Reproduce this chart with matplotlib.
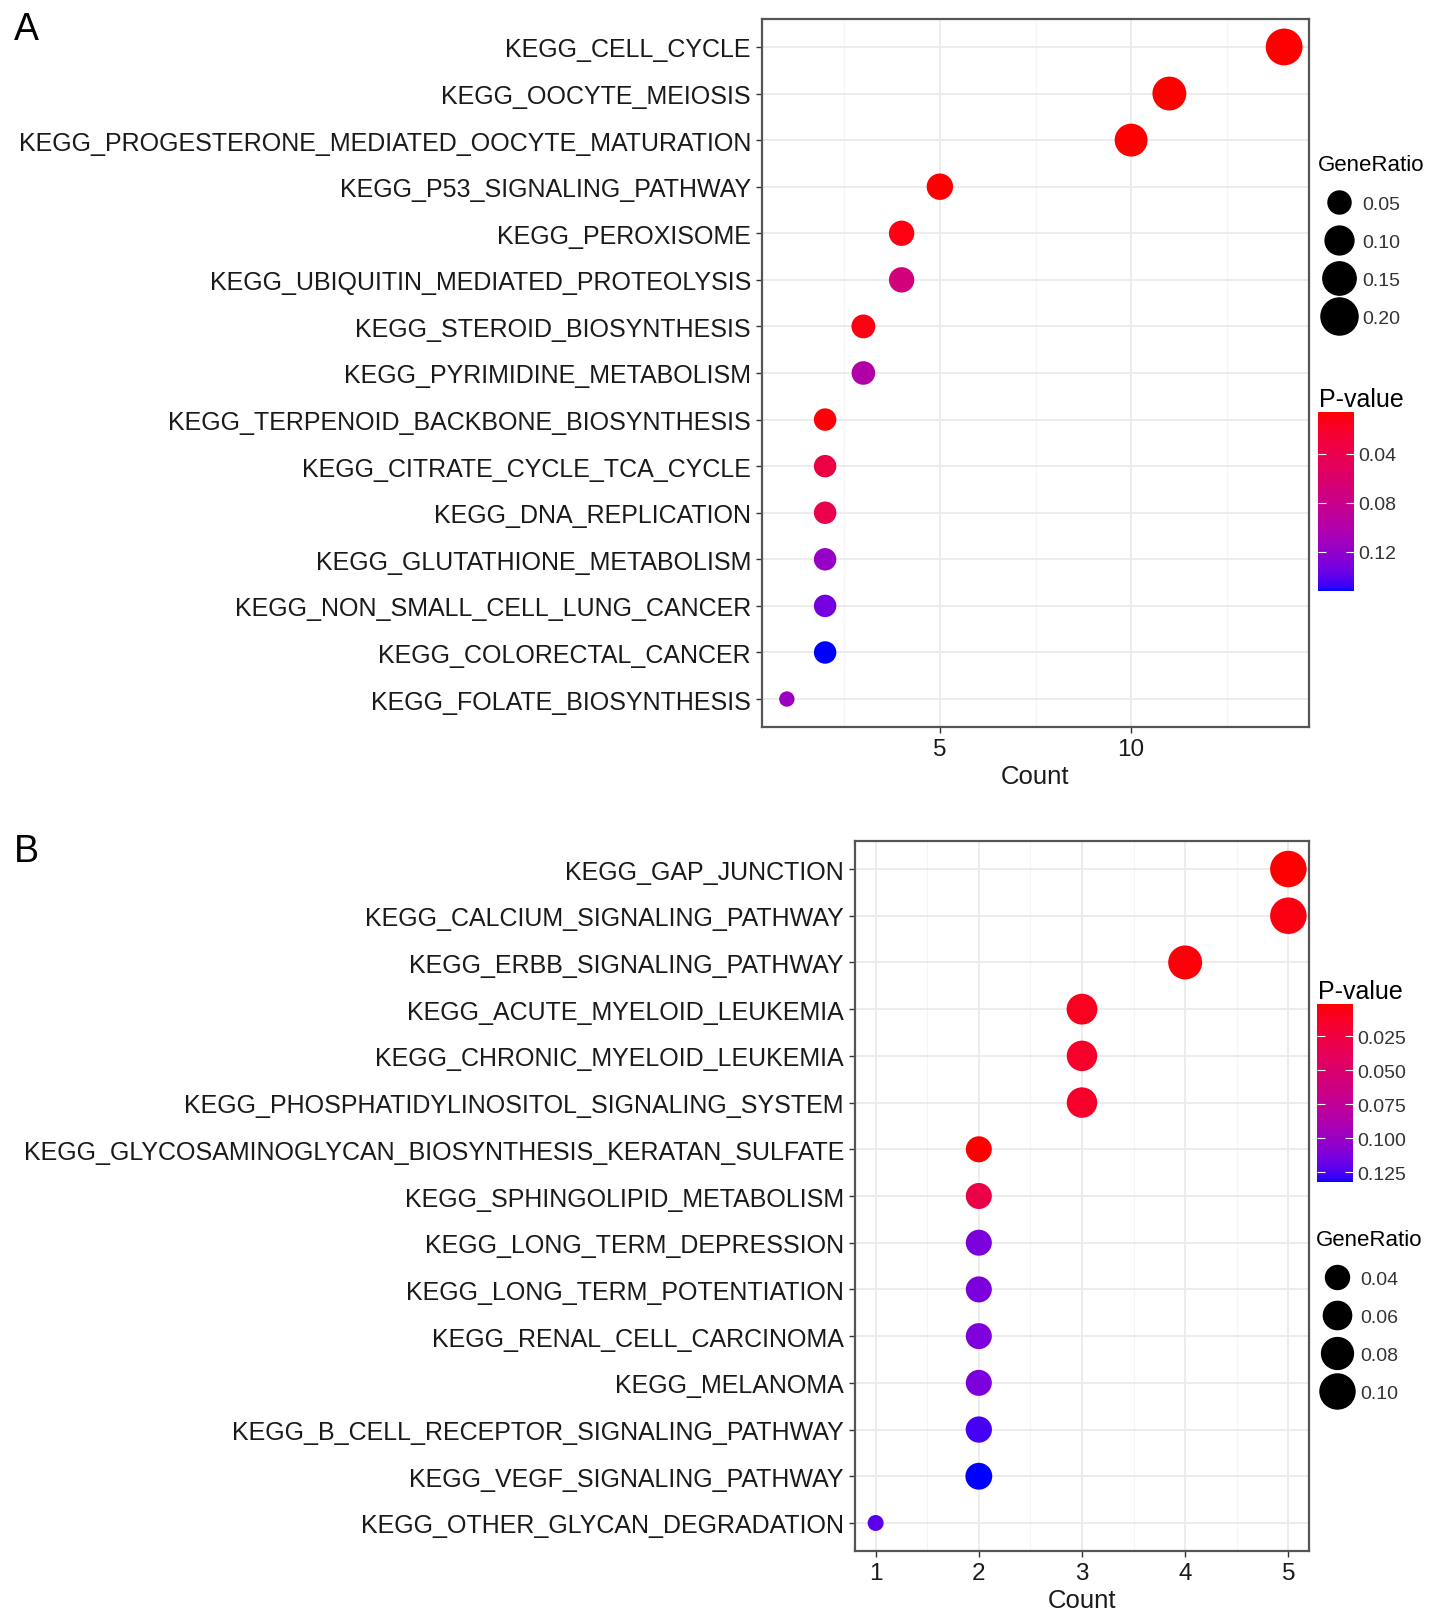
import numpy as np
import matplotlib
matplotlib.use("Agg")
import matplotlib.pyplot as plt
from matplotlib.colors import ListedColormap, Normalize
from matplotlib.cm import ScalarMappable
from matplotlib.lines import Line2D

plt.rcParams['font.family'] = ['Liberation Sans', 'DejaVu Sans']

# ---------------- data, panel A ----------------
terms_a = ["KEGG_CELL_CYCLE", "KEGG_OOCYTE_MEIOSIS",
           "KEGG_PROGESTERONE_MEDIATED_OOCYTE_MATURATION", "KEGG_P53_SIGNALING_PATHWAY",
           "KEGG_PEROXISOME", "KEGG_UBIQUITIN_MEDIATED_PROTEOLYSIS",
           "KEGG_STEROID_BIOSYNTHESIS", "KEGG_PYRIMIDINE_METABOLISM",
           "KEGG_TERPENOID_BACKBONE_BIOSYNTHESIS", "KEGG_CITRATE_CYCLE_TCA_CYCLE",
           "KEGG_DNA_REPLICATION", "KEGG_GLUTATHIONE_METABOLISM",
           "KEGG_NON_SMALL_CELL_LUNG_CANCER", "KEGG_COLORECTAL_CANCER",
           "KEGG_FOLATE_BIOSYNTHESIS"]
count_a = [14, 11, 10, 5, 4, 4, 3, 3, 2, 2, 2, 2, 2, 2, 1]
ratio_a = [0.196, 0.157, 0.145, 0.077, 0.068, 0.068, 0.056, 0.054,
           0.046, 0.046, 0.046, 0.046, 0.046, 0.046, 0.0103]
pval_a = [0.006, 0.006, 0.006, 0.007, 0.010, 0.070, 0.010, 0.100,
          0.008, 0.035, 0.040, 0.118, 0.133, 0.152, 0.115]
xticks_a = [5, 10]
size_breaks_a = [0.05, 0.10, 0.15, 0.20]
cbar_ticks_a = [0.04, 0.08, 0.12]
plim_a = (0.006, 0.152)

# ---------------- data, panel B ----------------
terms_b = ["KEGG_GAP_JUNCTION", "KEGG_CALCIUM_SIGNALING_PATHWAY",
           "KEGG_ERBB_SIGNALING_PATHWAY", "KEGG_ACUTE_MYELOID_LEUKEMIA",
           "KEGG_CHRONIC_MYELOID_LEUKEMIA", "KEGG_PHOSPHATIDYLINOSITOL_SIGNALING_SYSTEM",
           "KEGG_GLYCOSAMINOGLYCAN_BIOSYNTHESIS_KERATAN_SULFATE",
           "KEGG_SPHINGOLIPID_METABOLISM", "KEGG_LONG_TERM_DEPRESSION",
           "KEGG_LONG_TERM_POTENTIATION", "KEGG_RENAL_CELL_CARCINOMA",
           "KEGG_MELANOMA", "KEGG_B_CELL_RECEPTOR_SIGNALING_PATHWAY",
           "KEGG_VEGF_SIGNALING_PATHWAY", "KEGG_OTHER_GLYCAN_DEGRADATION"]
count_b = [5, 5, 4, 3, 3, 3, 2, 2, 2, 2, 2, 2, 2, 2, 1]
ratio_b = [0.110, 0.110, 0.093, 0.074, 0.072, 0.072, 0.049, 0.049,
           0.049, 0.049, 0.049, 0.049, 0.050, 0.053, 0.0134]
pval_b = [0.002, 0.006, 0.004, 0.010, 0.015, 0.015, 0.002, 0.030,
          0.113, 0.113, 0.112, 0.113, 0.126, 0.132, 0.122]
xticks_b = [1, 2, 3, 4, 5]
size_breaks_b = [0.04, 0.06, 0.08, 0.10]
cbar_ticks_b = [0.025, 0.050, 0.075, 0.100, 0.125]
plim_b = (0.0015, 0.132)


# red -> blue gradient interpolated in CIELAB, like ggplot2
def srgb_to_lab(rgb):
    rgb = np.asarray(rgb, float)
    lin = np.where(rgb <= 0.04045, rgb / 12.92, ((rgb + 0.055) / 1.055) ** 2.4)
    m = np.array([[0.4124, 0.3576, 0.1805],
                  [0.2126, 0.7152, 0.0722],
                  [0.0193, 0.1192, 0.9505]])
    xyz = m @ lin / np.array([0.95047, 1.0, 1.08883])
    f = np.where(xyz > 0.008856, np.cbrt(xyz), 7.787 * xyz + 16 / 116)
    return np.array([116 * f[1] - 16, 500 * (f[0] - f[1]), 200 * (f[1] - f[2])])


def lab_to_srgb(lab):
    L, a, b = lab
    fy = (L + 16) / 116
    fx = fy + a / 500
    fz = fy - b / 200
    f = np.array([fx, fy, fz])
    xyz = np.where(f ** 3 > 0.008856, f ** 3, (f - 16 / 116) / 7.787)
    xyz = xyz * np.array([0.95047, 1.0, 1.08883])
    minv = np.array([[3.2406, -1.5372, -0.4986],
                     [-0.9689, 1.8758, 0.0415],
                     [0.0557, -0.2040, 1.0570]])
    lin = minv @ xyz
    rgb = np.where(lin <= 0.0031308, 12.92 * lin, 1.055 * np.abs(lin) ** (1 / 2.4) - 0.055)
    return np.clip(rgb, 0, 1)


lab_lo = srgb_to_lab([1, 0, 0])
lab_hi = srgb_to_lab([0, 0, 1])
cmap = ListedColormap([lab_to_srgb(lab_lo + t * (lab_hi - lab_lo))
                       for t in np.linspace(0, 1, 256)])

W, H = 1441, 1624
fig = plt.figure(figsize=(W / 100, H / 100), dpi=100)


def box(x0, y0, x1, y1):
    return [x0 / W, 1 - y1 / H, (x1 - x0) / W, (y1 - y0) / H]


def diam_pt(r, d0, k):
    return (d0 + k * np.sqrt(np.asarray(r))) * 0.72


def panel(rect, terms, counts, ratios, pvals, xticks, xlim, minor, plim, d0, k):
    ax = fig.add_axes(rect)
    n = len(terms)
    y = np.arange(n)
    norm = Normalize(*plim)
    ax.scatter(counts, y, s=diam_pt(ratios, d0, k) ** 2, c=pvals, cmap=cmap,
               norm=norm, linewidths=0, zorder=3)
    ax.set_ylim(n - 0.4, -0.6)
    ax.set_xlim(*xlim)
    ax.set_yticks(y)
    ax.set_yticklabels(terms, fontsize=18, color='#1a1a1a')
    ax.set_xticks(xticks)
    ax.set_xticks(minor, minor=True)
    ax.set_xticklabels([str(t) for t in xticks], fontsize=17.5, color='#1a1a1a')
    ax.tick_params(which='major', length=4, width=1, color='#333333', pad=4)
    ax.tick_params(which='minor', length=0)
    ax.grid(which='major', color='#ebebeb', lw=1.3, zorder=0)
    ax.grid(which='minor', axis='x', color='#f5f5f5', lw=0.8, zorder=0)
    for s in ax.spines.values():
        s.set_color('#555555')
        s.set_linewidth(1.6)
    ax.set_xlabel("Count", fontsize=18.5, color='#1a1a1a', labelpad=3)
    return ax, norm


def colorbar(rect, norm, ticks, fmt):
    cax = fig.add_axes(rect)
    cb = fig.colorbar(ScalarMappable(norm=norm, cmap=cmap), cax=cax)
    cb.outline.set_visible(False)
    cb.set_ticks(ticks)
    cb.set_ticklabels([fmt.format(t) for t in ticks])
    cax.invert_yaxis()
    cax.tick_params(direction='in', length=6, width=0.8, color='white',
                    left=True, right=True, labelsize=14, labelcolor='#333333', pad=3)


def size_legend(x, y, breaks, d0, k):
    handles = [Line2D([], [], marker='o', ls='', color='black',
                      markersize=m) for m in diam_pt(breaks, d0, k)]
    leg = fig.legend(handles, [f"{b:.2f}" for b in breaks], loc='upper left',
                     bbox_to_anchor=(x / W, 1 - y / H), frameon=False,
                     title="GeneRatio", title_fontsize=16, fontsize=14,
                     labelspacing=1.05, handletextpad=0.1, borderpad=0,
                     borderaxespad=0, alignment='left', handlelength=2.2)
    for t in leg.get_texts():
        t.set_color('#333333')


# panel A
ax_a, norm_a = panel(box(762, 20, 1309, 728), terms_a, count_a, ratio_a, pval_a,
                     xticks_a, (0.35, 14.65), [2.5, 7.5, 12.5], plim_a, 9, 62.8)
fig.text(14 / W, 1 - 40 / H, "A", fontsize=27, va='baseline', ha='left')
size_legend(1318, 155, size_breaks_a, 9, 62.8)
fig.text(1319 / W, 1 - 400 / H, "P-value", fontsize=18, va='center')
colorbar(box(1318, 413, 1354, 592), norm_a, cbar_ticks_a, "{:.2f}")

# panel B
ax_b, norm_b = panel(box(855, 842, 1309, 1552), terms_b, count_b, ratio_b, pval_b,
                     xticks_b, (0.8, 5.2), [1.5, 2.5, 3.5, 4.5], plim_b, 5, 95)
fig.text(14 / W, 1 - 862 / H, "B", fontsize=27, va='baseline', ha='left')
fig.text(1318 / W, 1 - 992 / H, "P-value", fontsize=18, va='center')
colorbar(box(1317, 1005, 1353, 1183), norm_b, cbar_ticks_b, "{:.3f}")
size_legend(1316, 1230, size_breaks_b, 5, 95)

fig.savefig("out.png", dpi=100, facecolor='white')
